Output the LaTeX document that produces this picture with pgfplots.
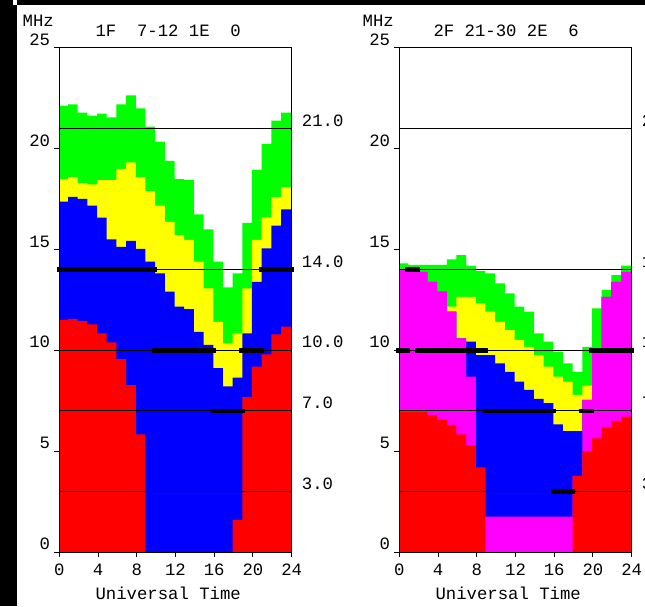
\documentclass[border=0pt]{standalone}
\usepackage{fontspec}
\setmainfont{Liberation Mono}
\usepackage{pgfplots}
\usepackage{pgfplotstable}
\pgfplotsset{compat=1.18}

\definecolor{cR}{RGB}{255,0,0}
\definecolor{cB}{RGB}{0,0,255}
\definecolor{cY}{RGB}{255,255,0}
\definecolor{cG}{RGB}{0,255,0}
\definecolor{cM}{RGB}{255,0,255}

% panel 1: tops of red, blue, yellow, green per hour column
\pgfplotstableread{
x    R     B     Y     G
0    11.51 17.38 18.50 22.14
0.9  11.56 17.62 18.60 22.20
1.9  11.47 17.51 18.30 21.80
2.9  11.29 17.18 18.24 21.64
3.9  10.85 16.58 18.45 21.74
4.9  10.40 15.51 18.45 21.56
5.9   9.57 15.14 19.00 22.20
6.9   8.28 15.43 19.33 22.65
7.9   5.84 15.03 18.60 22.00
8.9   0    14.40 17.90 21.10
9.9   0    13.82 17.18 20.35
10.9  0    12.91 16.38 19.40
11.9  0    12.17 15.72 18.50
12.9  0    12.05 15.48 18.45
13.9  0    10.92 14.40 16.75
14.9  0    10.28 13.08 16.00
15.9  0     9.12 11.42 14.40
16.9  0     8.22 10.35 13.13
17.9  1.59  8.65 10.85 13.82
18.9  7.70 10.85 13.08 16.33
19.9  9.19 13.40 15.48 18.95
20.9  9.80 15.06 16.60 20.24
21.9 10.80 16.19 17.60 21.40
22.9 11.18 17.00 18.10 21.80
24   11.18 17.00 18.10 21.80
}\tA

% panel 2: tops of red, magenta, blue, yellow, green per hour column
\pgfplotstableread{
x    R     M     B     Y     G
0    6.96 13.99 13.99 13.99 14.32
0.9  6.96 13.99 13.99 13.99 14.24
1.9  6.96 13.90 13.90 13.90 14.24
2.9  6.80 13.40 13.40 13.40 14.24
3.9  6.55 12.91 12.91 12.91 14.24
4.9  6.30 11.92 11.92 12.17 14.52
5.9  5.84 10.60 10.60 12.66 14.73
6.9  5.30  8.70 10.43 12.66 14.19
7.9  4.18  4.18  9.77 12.33 13.95
8.9  0     1.75  9.77 11.92 13.82
9.9  0     1.75  9.36 11.42 13.33
10.9 0     1.75  8.94 11.01 12.83
11.9 0     1.75  8.45 10.52 12.17
12.9 0     1.75  8.04 10.18 11.92
13.9 0     1.75  7.60  9.77 10.85
14.9 0     1.75  7.38  9.19 10.43
15.9 0     1.75  6.33  8.70  9.94
16.9 0     1.75  6.00  8.45  9.36
17.9 3.78  3.78  6.00  7.79  8.94
18.9 5.00  7.54  7.54  8.25 10.18
19.9 5.64 10.00 10.00 10.00 12.09
20.9 6.19 12.66 12.66 12.66 13.00
21.9 6.50 13.40 13.40 13.40 13.74
22.9 6.71 13.90 13.90 13.90 14.20
24   6.71 13.90 13.90 13.90 14.20
}\tB

\pgfplotsset{
  panel/.style={
    scale only axis, width=232.4pt, height=504pt,
    anchor=south west,
    xmin=0, xmax=24, ymin=0, ymax=25,
    xtick={0,4,...,24}, ytick={0,5,...,25},
    tick align=outside, xtick pos=bottom, ytick pos=left,
    major tick length=5pt,
    axis on top, clip=false,
    axis line style={black, line width=1pt},
    tick style={black, line width=1pt},
    /pgf/number format/assume math mode=true,
    yticklabel style={anchor=base east, inner sep=0pt, xshift=-4pt, yshift=2.5pt},
    xticklabel style={anchor=base, inner sep=0pt, yshift=-18pt},
  },
  hl/.style={black, line width=0.9pt},
  bar/.style={black, line width=4.6pt},
}

\begin{document}
\fontsize{17.3pt}{20pt}\selectfont
\begin{tikzpicture}[x=1pt,y=1pt]
\clip (0,0) rectangle (645,606);
\fill[white] (0,0) rectangle (645,606);
\fill[black] (0,0) rectangle (17.3,606);
\fill[black] (0,601) rectangle (645,606);
\fill[white] (12.7,601) rectangle (16.7,606);

% ---------- panel 1 ----------
\begin{axis}[panel, at={(59.3pt,54pt)}]
\addplot[draw=none, fill=cG, const plot] table[x=x, y=G]{\tA} \closedcycle;
\addplot[draw=none, fill=cY, const plot] table[x=x, y=Y]{\tA} \closedcycle;
\addplot[draw=none, fill=cB, const plot] table[x=x, y=B]{\tA} \closedcycle;
\addplot[draw=none, fill=cR, const plot] table[x=x, y=R]{\tA} \closedcycle;
\pgfplotsinvokeforeach{21,14,10,7,3}{
  \addplot[hl] coordinates {(0,#1) (24,#1)};
}
\addplot[bar] coordinates {(-0.27,14) (10.06,14)};
\addplot[bar] coordinates {(20.6,14) (24.2,14)};
\addplot[bar] coordinates {(9.6,10) (16.2,10)};
\addplot[bar] coordinates {(18.6,10) (21.1,10)};
\addplot[bar] coordinates {(15.67,7) (19.2,7)};
\node[anchor=base west, inner sep=0pt, xshift=10pt, yshift=2.5pt] at (axis cs:24,21) {21.0};
\node[anchor=base west, inner sep=0pt, xshift=10pt, yshift=2.5pt] at (axis cs:24,14) {14.0};
\node[anchor=base west, inner sep=0pt, xshift=10pt, yshift=2.5pt] at (axis cs:24,10) {10.0};
\node[anchor=base west, inner sep=0pt, xshift=10pt, yshift=2.5pt] at (axis cs:24,7) {7.0};
\node[anchor=base west, inner sep=0pt, xshift=10pt, yshift=2.5pt] at (axis cs:24,3) {3.0};
\node[anchor=base, inner sep=0pt, xshift=-21pt, yshift=21pt] at (rel axis cs:0,1) {MHz};
\node[anchor=base west, inner sep=0pt, xshift=36pt, yshift=11pt] at (rel axis cs:0,1) {1F\ \ 7-12 1E\ \ 0};
\node[anchor=base west, inner sep=0pt, xshift=36pt, yshift=-47pt] at (rel axis cs:0,0) {Universal Time};
\end{axis}

% ---------- panel 2 ----------
\begin{axis}[panel, at={(399.3pt,54pt)}]
\addplot[draw=none, fill=cG, const plot] table[x=x, y=G]{\tB} \closedcycle;
\addplot[draw=none, fill=cY, const plot] table[x=x, y=Y]{\tB} \closedcycle;
\addplot[draw=none, fill=cB, const plot] table[x=x, y=B]{\tB} \closedcycle;
\addplot[draw=none, fill=cM, const plot] table[x=x, y=M]{\tB} \closedcycle;
\addplot[draw=none, fill=cR, const plot] table[x=x, y=R]{\tB} \closedcycle;
\pgfplotsinvokeforeach{21,14,10,7,3}{
  \addplot[hl] coordinates {(0,#1) (24,#1)};
}
\addplot[bar] coordinates {(0.6,14) (2.15,14)};
\addplot[bar] coordinates {(-0.34,10) (1.1,10)};
\addplot[bar] coordinates {(1.64,10) (9.14,10)};
\addplot[bar] coordinates {(19.6,10) (24.2,10)};
\addplot[bar] coordinates {(8.6,7) (16.2,7)};
\addplot[bar] coordinates {(18.6,7) (20.1,7)};
\addplot[bar] coordinates {(15.67,3) (18.1,3)};
\node[anchor=base west, inner sep=0pt, xshift=10pt, yshift=2.5pt] at (axis cs:24,21) {21.0};
\node[anchor=base west, inner sep=0pt, xshift=10pt, yshift=2.5pt] at (axis cs:24,14) {14.0};
\node[anchor=base west, inner sep=0pt, xshift=10pt, yshift=2.5pt] at (axis cs:24,10) {10.0};
\node[anchor=base west, inner sep=0pt, xshift=10pt, yshift=2.5pt] at (axis cs:24,7) {7.0};
\node[anchor=base west, inner sep=0pt, xshift=10pt, yshift=2.5pt] at (axis cs:24,3) {3.0};
\node[anchor=base, inner sep=0pt, xshift=-21pt, yshift=21pt] at (rel axis cs:0,1) {MHz};
\node[anchor=base west, inner sep=0pt, xshift=34pt, yshift=11pt] at (rel axis cs:0,1) {2F 21-30 2E\ \ 6};
\node[anchor=base west, inner sep=0pt, xshift=36pt, yshift=-47pt] at (rel axis cs:0,0) {Universal Time};
\end{axis}
\end{tikzpicture}
\end{document}
